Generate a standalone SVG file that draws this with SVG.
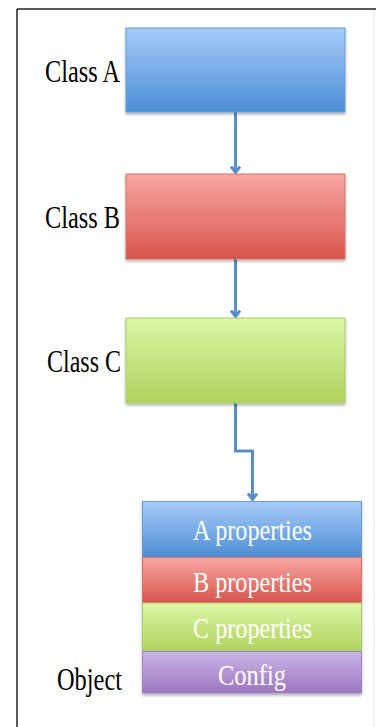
<svg xmlns="http://www.w3.org/2000/svg" width="376" height="727" viewBox="0 0 376 727">
<style>
.lbl{font-family:"Liberation Serif","Times New Roman",serif;font-size:32px;fill:#000}
.ptxt{font-family:"Liberation Serif","Times New Roman",serif;font-size:30px;fill:#fff;text-anchor:middle}
.conn{fill:none;stroke:#5a8ec8;stroke-width:3}
</style>
<defs>
<linearGradient id="gBlue" x1="0" y1="0" x2="0" y2="1"><stop offset="0" stop-color="#a6cbf8"/><stop offset="1" stop-color="#4d8ed6"/></linearGradient>
<linearGradient id="gRed" x1="0" y1="0" x2="0" y2="1"><stop offset="0" stop-color="#f8a7a3"/><stop offset="1" stop-color="#d8544c"/></linearGradient>
<linearGradient id="gGreen" x1="0" y1="0" x2="0" y2="1"><stop offset="0" stop-color="#ddf6a6"/><stop offset="1" stop-color="#afd35c"/></linearGradient>
<linearGradient id="gPurple" x1="0" y1="0" x2="0" y2="1"><stop offset="0" stop-color="#cbb7e8"/><stop offset="1" stop-color="#9a76c0"/></linearGradient>
<filter id="sh" x="-10%" y="-10%" width="120%" height="130%"><feDropShadow dx="0" dy="2" stdDeviation="1.5" flood-color="#000" flood-opacity="0.3"/></filter>
<marker id="arr" viewBox="0 0 12 12" refX="11" refY="6" markerWidth="12" markerHeight="12" orient="auto" markerUnits="userSpaceOnUse">
<path d="M4.5,1.5 L10.5,6 L4.5,10.5" fill="none" stroke="#5a8ec8" stroke-width="3"/>
</marker>
</defs>
<rect x="0" y="0" width="376" height="727" fill="#fff"/>
<g id="frame">
<line x1="17" y1="9" x2="376" y2="9" stroke="#222" stroke-width="1.5"/>
<line x1="17" y1="9" x2="17" y2="727" stroke="#222" stroke-width="1.5"/>
<line x1="374" y1="10" x2="374" y2="727" stroke="#e4e4e4" stroke-width="1"/>
</g>
<g id="connectors">
<path class="conn" d="M235.5,112 V173" marker-end="url(#arr)"/>
<path class="conn" d="M235.5,259 V317" marker-end="url(#arr)"/>
<path class="conn" d="M235.5,403 V451 H252.5 V500" marker-end="url(#arr)"/>
</g>
<g id="classA">
<rect x="126" y="28" width="219" height="84" fill="url(#gBlue)" stroke="#6b9bd2" stroke-width="1" filter="url(#sh)"/>
<text class="lbl" x="45" y="82" textLength="75" lengthAdjust="spacingAndGlyphs">Class A</text>
</g>
<g id="classB">
<rect x="126" y="174" width="219" height="85" fill="url(#gRed)" stroke="#d9716b" stroke-width="1" filter="url(#sh)"/>
<text class="lbl" x="45" y="228" textLength="75" lengthAdjust="spacingAndGlyphs">Class B</text>
</g>
<g id="classC">
<rect x="126" y="318" width="219" height="85" fill="url(#gGreen)" stroke="#a8cc6a" stroke-width="1" filter="url(#sh)"/>
<text class="lbl" x="47" y="372" textLength="74" lengthAdjust="spacingAndGlyphs">Class C</text>
</g>
<g id="object">
<g filter="url(#sh)">
<rect x="142.5" y="501.5" width="219" height="56" fill="url(#gBlue)" stroke="#6b9bd2" stroke-width="1"/>
<rect x="142.5" y="557.5" width="219" height="45.5" fill="url(#gRed)" stroke="#d9716b" stroke-width="1"/>
<rect x="142.5" y="603" width="219" height="48.5" fill="url(#gGreen)" stroke="#a8cc6a" stroke-width="1"/>
<rect x="142.5" y="651.5" width="219" height="41.5" fill="url(#gPurple)" stroke="#9d86c2" stroke-width="1"/>
</g>
<text class="ptxt" x="252.5" y="540" textLength="119" lengthAdjust="spacingAndGlyphs">A properties</text>
<text class="ptxt" x="252.5" y="592" textLength="119" lengthAdjust="spacingAndGlyphs">B properties</text>
<text class="ptxt" x="252.5" y="638" textLength="119" lengthAdjust="spacingAndGlyphs">C properties</text>
<text class="ptxt" x="252" y="685" textLength="68" lengthAdjust="spacingAndGlyphs">Config</text>
<text class="lbl" x="57" y="690" textLength="65" lengthAdjust="spacingAndGlyphs">Object</text>
</g>
</svg>
